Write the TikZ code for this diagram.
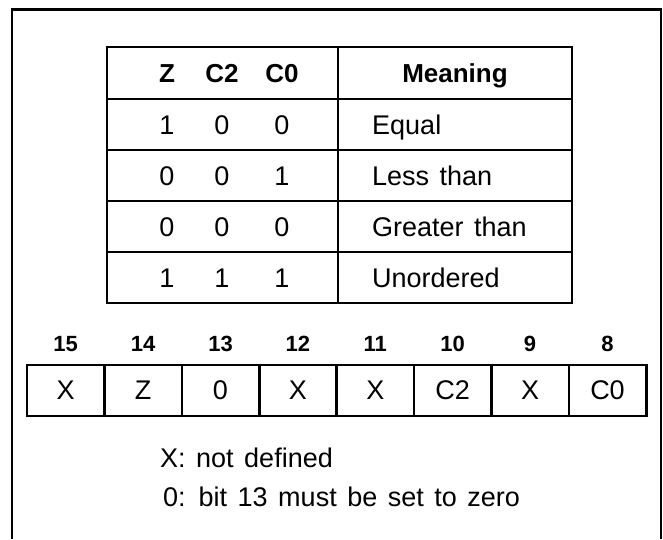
\documentclass[tikz,border=0pt]{standalone}
\usepackage{fontspec}
\setmainfont{Liberation Sans}[WordSpace=1.4]
\newcommand\regw{77.4}
\newcommand\rowh{51}
\newcommand\capoff{9.5}
\usetikzlibrary{positioning}
\tikzset{box/.style={rectangle,draw=black,line width=2.6pt,inner sep=0pt},
    txt/.style={font=\fontsize{27}{31}\selectfont,inner sep=0pt},
    headtxt/.style={font=\fontsize{26}{30}\selectfont\bfseries,inner sep=0pt},
    bitnum/.style={font=\fontsize{22}{26}\selectfont\bfseries,inner sep=0pt}}

\begin{document}
\begin{tikzpicture}[x=1pt,y=-1pt]
                \useasboundingbox (0,0) rectangle (663,539);
                % frame, open at the bottom
                \draw[line width=2.2pt] (12,539) -- (12,9.5) -- (661,9.5) -- (661,539);

                % table head
                \node[box, minimum width=231pt, minimum height=52pt] (flaghead) at (222.5,73) {};
                \node[box, minimum width=234pt, minimum height=52pt] (meanhead) at (455,73) {};
                \node[headtxt, anchor=base] (hz) at (167,73+\capoff) {Z};
                \node[headtxt, anchor=base] (hctwo) at (222,73+\capoff) {C2};
                \node[headtxt, anchor=base] (hczero) at (282,73+\capoff) {C0};
                \node[headtxt, anchor=base] (hmean) at (455,73+\capoff) {Meaning};

                % table rows
                \foreach \z/\ctwo/\czero/\mean [count=\i] in {1/0/0/Equal, 0/0/1/Less than, 0/0/0/Greater than, 1/1/1/Unordered}{
                    \node[box, minimum width=231pt, minimum height=\rowh pt] (flags\i) at (222.5,73.5+\rowh*\i) {};
                    \node[box, minimum width=234pt, minimum height=\rowh pt] (mean\i) at (455,73.5+\rowh*\i) {};
                    \node[txt, anchor=base] (z\i) at (167,73.5+\rowh*\i+\capoff) {\z};
                    \node[txt, anchor=base] (ctwo\i) at (222,73.5+\rowh*\i+\capoff) {\ctwo};
                    \node[txt, anchor=base] (czero\i) at (282,73.5+\rowh*\i+\capoff) {\czero};
                    \node[txt, anchor=base west] (m\i) at (372,73.5+\rowh*\i+\capoff) {\mean};
                }

                % register bits 15..8
                \foreach \lab/\bit [count=\i from 0] in {X/15, Z/14, 0/13, X/12, X/11, C2/10, X/9, C0/8}{
                    \node[box, txt, minimum width=\regw pt, minimum height=51pt] (reg\bit) at ({27+\regw*(\i+0.5)},390.5) {\lab};
                    \node[bitnum, above=12pt of reg\bit] (num\bit) {\bit};
                }

                % legend
                \node[txt, anchor=base west] (legx) at (160,458+\capoff) {X: not defined};
                \node[txt, anchor=base west] (legzero) at (163,497+\capoff) {0: bit 13 must be set to zero};
\end{tikzpicture}
\end{document}
